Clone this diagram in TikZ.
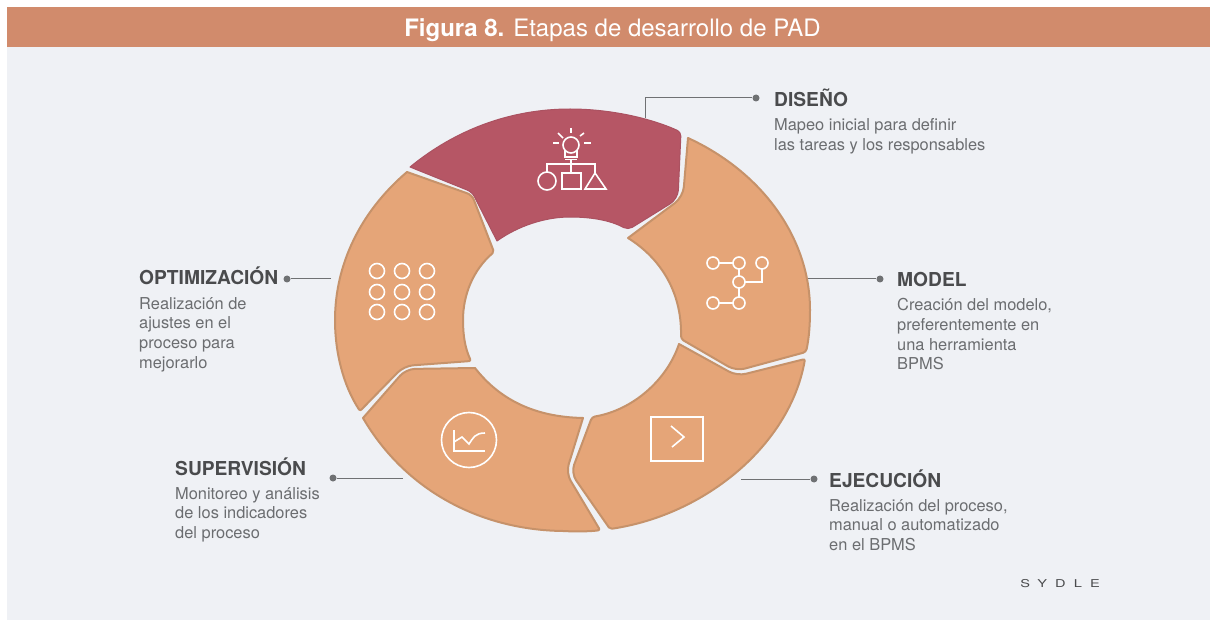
\documentclass[tikz,border=0pt]{standalone}
\usepackage{fontspec}
\setmainfont{TeX Gyre Heros}
\newfontfamily\logofont[LetterSpace=75,FakeStretch=1.35]{TeX Gyre Heros}
\usetikzlibrary{positioning}
\definecolor{panelbg}{HTML}{EFF1F5}
\definecolor{headbg}{HTML}{D18B6C}
\definecolor{petal}{HTML}{E5A578}
\definecolor{petaledge}{HTML}{C6926A}
\definecolor{petalred}{HTML}{B65665}
\definecolor{petalrededge}{HTML}{AB5261}
\definecolor{headtext}{HTML}{4A4B4D}
\definecolor{bodytext}{HTML}{6B6D70}
\definecolor{leader}{HTML}{6F7173}
\tikzset{
  petalshape/.style={fill=petal, draw=petaledge, line width=2pt, line join=round},
  redshape/.style={fill=petalred, draw=petalrededge, line width=1pt, line join=round},
  iconline/.style={draw=white, line width=1.6pt},
  leaderline/.style={draw=leader, line width=1pt},
  leaderdot/.style={circle, fill=leader, inner sep=0pt, minimum size=7pt},
  headlabel/.style={anchor=base west, inner sep=0pt, text=headtext, font=\fontsize{19.2}{21}\selectfont\bfseries},
  bodylabel/.style={anchor=north west, inner sep=0pt, align=left, text=bodytext, font=\fontsize{16.4}{19.8}\selectfont}
}
\begin{document}
\begin{tikzpicture}[x=1pt, y=-1pt]
  \useasboundingbox (0,0) rectangle (1210,620);
  \fill [panelbg] (7,47) rectangle (1210,620);
  \fill [headbg] (7,7) rectangle (1210,47);
  \node [text=white, inner sep=0pt, font=\fontsize{24}{26}\selectfont] (title) at (612.5,30) {\textbf{Figura 8.} Etapas de desarrollo de PAD};

  % ring
  \draw [redshape] (410,167) .. controls (455,130) and (510,109) .. (570,109)
    [rounded corners=4pt] .. controls (610,109) and (650,118) .. (681,132) [rounded corners=9pt] -- (678,199)
    [rounded corners=5pt] -- (628,230) [sharp corners] .. controls (610,220) and (590,217) .. (570,217)
    .. controls (545,217) and (518,226) .. (497,241) [rounded corners=5pt] -- (472,192) [sharp corners] -- cycle;
  \draw [petalshape] (688,138) .. controls (762,172) and (810,238) .. (810,310)
    [rounded corners=3pt] .. controls (810,325) and (809,338) .. (806,352) [rounded corners=9pt] -- (736,371)
    [rounded corners=3pt] -- (681,339) [sharp corners] -- (681,330) .. controls (680,290) and (660,258) .. (628,238)
    [rounded corners=10pt] -- (683,197) [sharp corners] -- cycle;
  \draw [petalshape] (679,344) [rounded corners=9pt] -- (737,376) [rounded corners=2pt] -- (805,359) [sharp corners]
    [rounded corners=2pt] .. controls (790,445) and (705,515) .. (610,529) [rounded corners=9pt] -- (571,473)
    [rounded corners=3pt] -- (592,417) [sharp corners] .. controls (633,410) and (667,380) .. cycle;
  \draw [petalshape] (475,368) .. controls (500,400) and (535,417) .. (583,418)
    [rounded corners=9pt] -- (566,473) [rounded corners=2pt] -- (600,530) [sharp corners]
    .. controls (595,531) and (580,532) .. (563,531) .. controls (480,530) and (405,490) .. (363,418)
    [rounded corners=9pt] -- (406,369) [sharp corners] -- cycle;
  \draw [petalshape] (407,172) [rounded corners=5pt] -- (472,195) [rounded corners=2pt] -- (494,252) [sharp corners]
    .. controls (473,270) and (463,295) .. (463,320) [rounded corners=2pt] .. controls (463,335) and (465,348) .. (471,361)
    [rounded corners=9pt] -- (404,366) [rounded corners=2pt] -- (360,411) [sharp corners]
    .. controls (343,385) and (335,352) .. (335,320) .. controls (335,265) and (360,212) .. cycle;

  % icon of the first stage
  \draw [iconline] (571,145) circle (8);
  \draw [iconline] (565,150) -- (565,157) -- (577,157) -- (577,150);
  \draw [iconline] (565,159.5) -- (577,159.5);
  \draw [iconline] (571,160) -- (571,173);
  \draw [iconline] (547,172) -- (547,164) -- (595,164) -- (595,173);
  \draw [iconline] (547,181) circle (9);
  \draw [iconline] (562,173) rectangle (581,189);
  \draw [iconline] (595,173) -- (606,189) -- (585,189) -- cycle;
  \draw [iconline] (571,128) -- (571,133);
  \draw [iconline] (580,136) -- (584,133);
  \draw [iconline] (584,143) -- (591,143);
  \draw [iconline] (558,133) -- (563,138);
  \draw [iconline] (553,143) -- (559,143);

  % icon of the second stage
  \draw [iconline] (713,263) circle (6) (739,263) circle (6) (762,263) circle (6);
  \draw [iconline] (739,282) circle (6) (713,303) circle (6) (739,303) circle (6);
  \draw [iconline] (719,263) -- (733,263) (739,269) -- (739,276) (739,288) -- (739,297);
  \draw [iconline] (745,282) -- (762,282) -- (762,269) (719,303) -- (733,303);

  % icon of the third stage
  \draw [iconline] (651,417) rectangle (703,461);
  \draw [iconline] (671,426) -- (684,437) -- (672,447);

  % icon of the fourth stage
  \draw [iconline] (469,440) circle (27.5);
  \draw [iconline] (454,430) -- (454,451) -- (485,451);
  \draw [iconline] (454,442) -- (462,437) -- (469,444) .. controls (473,438) and (475,433) .. (485,433);

  % icon of the fifth stage
  \foreach \ix in {377,402,427}
    \foreach \iy in {271,292,312}
      \draw [iconline] (\ix,\iy) circle (7.5);

  % leaders
  \coordinate (disenoend) at (645,118);
  \coordinate (modelend) at (808,279);
  \coordinate (ejecend) at (741,479);
  \coordinate (superend) at (403,478);
  \coordinate (optimend) at (331,279);
  \node [leaderdot] (disenodot) at (756,98) {};
  \node [leaderdot] (modeldot) at (880,279) {};
  \node [leaderdot] (ejecdot) at (814,479) {};
  \node [leaderdot] (superdot) at (333,478) {};
  \node [leaderdot] (optimdot) at (287,279) {};
  \draw [leaderline] (disenoend) |- (disenodot);
  \draw [leaderline] (modelend) -- (modeldot);
  \draw [leaderline] (ejecend) -- (ejecdot);
  \draw [leaderline] (superend) -- (superdot);
  \draw [leaderline] (optimend) -- (optimdot);

  % labels
  \node [headlabel] (disenohead) at (774,106.5) {DISEÑO};
  \node [bodylabel] (disenobody) at (774,118) {Mapeo inicial para definir\\las tareas y los responsables};
  \node [headlabel] (modelhead) at (897,286.5) {MODEL};
  \node [bodylabel] (modelbody) at (897,298) {Creación del modelo,\\preferentemente en\\una herramienta\\BPMS};
  \node [headlabel] (ejechead) at (829,487.5) {EJECUCIÓN};
  \node [bodylabel] (ejecbody) at (829,499) {Realización del proceso,\\manual o automatizado\\en el BPMS};
  \node [headlabel] (superhead) at (175,475.5) {SUPERVISIÓN};
  \node [bodylabel] (superbody) at (175,487) {Monitoreo y análisis\\de los indicadores\\del proceso};
  \node [headlabel] (optimhead) at (139,284.5) {OPTIMIZACIÓN};
  \node [bodylabel] (optimbody) at (139,297) {Realización de\\ajustes en el\\proceso para\\mejorarlo};
  \node [inner sep=0pt, text=headtext, font=\logofont\fontsize{10.8}{12}\selectfont] (sydle) at (1060,584) {SYDLE};
\end{tikzpicture}
\end{document}
